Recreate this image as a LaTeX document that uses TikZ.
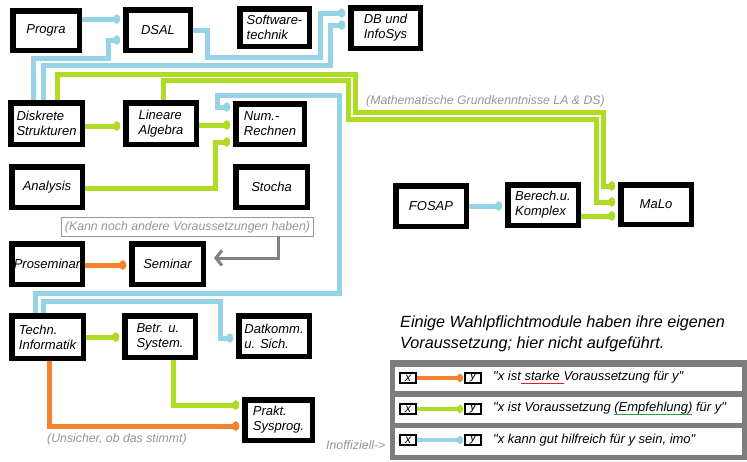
\documentclass[tikz,border=0pt]{standalone}
\usepackage{fontspec}
\setmainfont{Liberation Sans}[Ligatures=TeXOff]
\usetikzlibrary{arrows.meta}
\definecolor{cblue}{RGB}{151,211,230}
\definecolor{cgreen}{RGB}{174,220,36}
\definecolor{corange}{RGB}{244,130,46}
\definecolor{ctext}{RGB}{150,150,150}
\definecolor{cgarrow}{RGB}{128,128,128}
\definecolor{cframe}{RGB}{125,125,125}
\definecolor{ulred}{RGB}{220,30,40}
\definecolor{ulgreen}{RGB}{40,160,70}
\pgfdeclarelayer{bg}
\pgfsetlayers{bg,main}
\newcommand\colul[2]{\setbox0\hbox{#2}\rlap{\color{#1}\rule[-3.5pt]{\wd0}{1.5pt}}\box0\relax}
\begin{document}
\begin{tikzpicture}[x=1pt,y=-1pt,
  bx/.style={draw=black,line width=5.5pt,fill=white,align=left,inner sep=0pt,
    minimum width=70.5pt,minimum height=40.5pt,font=\fontsize{13}{15}\selectfont\itshape},
  conn/.style={line width=5pt,shorten >=2.75pt,-{Circle[length=7pt,width=9pt]}},
  lconn/.style={line width=4pt,shorten >=1pt,-{Circle[length=6pt,width=8pt]}},
  lbox/.style={draw=black,line width=2pt,fill=white,inner sep=0pt,minimum width=16pt,
    minimum height=10pt,font=\fontsize{12}{12}\selectfont\itshape},
  graytxt/.style={text=ctext,inner sep=0pt,font=\fontsize{12.3}{14}\selectfont\itshape},
  legtxt/.style={inner sep=0pt,anchor=west,font=\fontsize{13}{15}\selectfont\itshape},
  titletxt/.style={inner sep=0pt,anchor=base west,font=\fontsize{16.2}{18}\selectfont\itshape}]
\useasboundingbox (0,0) rectangle (747,461);
\begin{pgfonlayer}{bg}
\fill[white] (0,0) rectangle (747,461);
\end{pgfonlayer}

% boxes
\node[bx,minimum width=66.5pt,minimum height=39.5pt] (progra) at (46,30.5) {Progra};
\node[bx,minimum width=64.5pt] (dsal) at (158,30) {DSAL};
\node[bx,minimum width=69.5pt,minimum height=37.5pt] (swt) at (274.5,27.5) {Software-\\technik};
\node[bx,minimum width=69.5pt] (db) at (385.5,28) {DB und\\InfoSys};
\node[bx,minimum width=71.5pt,minimum height=41.5pt] (ds) at (46.5,123.5) {Diskrete\\Strukturen};
\node[bx,minimum height=41.5pt] (la) at (161,123.5) {Lineare\\Algebra};
\node[bx,minimum width=68.5pt] (num) at (270,124) {Num.-\\Rechnen};
\node[bx] (ana) at (47,187) {Analysis};
\node[bx,minimum width=71.5pt] (sto) at (271.5,187) {Stocha};
\node[bx] (prosem) at (47,264) {Proseminar};
\node[bx,minimum width=71.5pt] (sem) at (167.5,264) {Seminar};
\node[bx,minimum width=71.5pt,minimum height=42.5pt] (ti) at (47.5,337) {Techn.\\Informatik};
\node[bx,minimum height=41.5pt] (bs) at (160,336.5) {Betr. u.\\System.};
\node[bx] (dk) at (274,336) {Datkomm.\\u. Sich.};
\node[bx,minimum width=67.5pt] (ps) at (278.5,420) {Prakt.\\Sysprog.};
\node[bx] (fosap) at (431,206) {FOSAP};
\node[bx] (bk) at (543,205) {Berech.u.\\Komplex};
\node[bx,minimum height=39.5pt] (malo) at (656,204.5) {MaLo};

% gray note
\node[draw=ctext,line width=1pt,fill=white,inner sep=0pt,minimum width=252pt,minimum height=19pt,
  text=ctext,font=\fontsize{12.3}{14}\selectfont\itshape] (klabel) at (187.5,227)
  {(Kann noch andere Voraussetzungen haben)};

\begin{pgfonlayer}{bg}
% blue connectors
\draw[conn,cblue] (progra.east |- 0,19) -- (dsal.west |- 0,19);
\draw[conn,cblue] (ds.north -| 33,0) |- (108,58) |- (dsal.west |- 0,40);
\draw[conn,cblue] (dsal.east |- 0,30) -| (207,57) -| (320,13) -- (db.west |- 0,13);
\draw[conn,cblue] (ds.north -| 43,0) |- (330,65) |- (db.west |- 0,25);
\draw[conn,cblue] (ti.north -| 35,0) |- (339,293) |- (217,95) |- (num.west |- 0,107);
\draw[conn,cblue] (ti.north -| 43,0) |- (220,301) |- (dk.west |- 0,338);
\draw[conn,cblue] (fosap.east |- 0,206) -- (bk.west |- 0,206);
% green connectors
\draw[conn,cgreen] (ds.north -| 57,0) |- (355,74) |- (603,112) |- (malo.west |- 0,186);
\draw[conn,cgreen] (la.north -| 163,0) |- (348,80) |- (596,119) |- (malo.west |- 0,202);
\draw[conn,cgreen] (ds.east |- 0,126) -- (la.west |- 0,126);
\draw[conn,cgreen] (la.east |- 0,125) -- (num.west |- 0,125);
\draw[conn,cgreen] (ana.east |- 0,188) -| (215,142) -- (num.west |- 0,142);
\draw[conn,cgreen] (ti.east |- 0,337) -- (bs.west |- 0,337);
\draw[conn,cgreen] (bs.south -| 173,0) |- (ps.west |- 0,405);
\draw[conn,cgreen] (bk.east |- 0,216) -- (malo.west |- 0,216);
% orange connectors
\draw[conn,corange] (ti.south -| 49,0) |- (ps.west |- 0,426);
\draw[conn,corange] (prosem.east |- 0,265) -- (sem.west |- 0,265);
\end{pgfonlayer}

% gray arrow
\draw[cgarrow,line width=3pt,-{Straight Barb[length=6pt,width=15pt]}]
  (klabel.south -| 278,0) |- ([xshift=8pt]sem.east |- 0,258);

% gray labels
\node[graytxt,anchor=west] (mlabel) at (366,101) {(Mathematische Grundkenntnisse LA \& DS)};
\node[graytxt,anchor=west] (ulabel) at (47,439) {(Unsicher, ob das stimmt)};
\node[graytxt,anchor=west] (ilabel) at (326,445) {Inoffiziell->};

% legend title
\node[titletxt] (t1) at (400,327) {Einige Wahlpflichtmodule haben ihre eigenen};
\node[titletxt] (t2) at (400,348) {Voraussetzung; hier nicht aufgeführt.};

% legend frame
\fill[cframe] (390,360) rectangle (747,460);
\fill[white] (395,367) rectangle (742,391);
\fill[white] (395,397) rectangle (742,423);
\fill[white] (395,428) rectangle (742,455);

\node[lbox] (lx1) at (408,378) {x};
\node[lbox] (ly1) at (473,378) {y};
\node[lbox] (lx2) at (408,409) {x};
\node[lbox] (ly2) at (473,409) {y};
\node[lbox] (lx3) at (408,440) {x};
\node[lbox] (ly3) at (473,440) {y};
\draw[lconn,corange] (lx1) -- (ly1);
\draw[lconn,cgreen] (lx2) -- (ly2);
\draw[lconn,cblue] (lx3) -- (ly3);
\node[legtxt] (r1) at (493,378) {"x ist\colul{ulred}{ starke }Voraussetzung für y"};
\node[legtxt] (r2) at (493,409) {"x ist Voraussetzung \colul{ulgreen}{(Empfehlung)} für y"};
\node[legtxt] (r3) at (493,440) {"x kann gut hilfreich für y sein, imo"};
\end{tikzpicture}
\end{document}
